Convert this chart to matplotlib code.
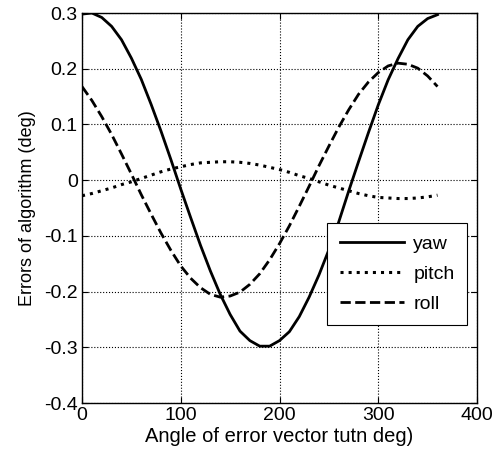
import matplotlib.pyplot as plt

plt.rcParams['font.family'] = ['Liberation Sans', 'DejaVu Sans']

# angle of error vector (deg)
angle = [0, 10, 20, 30, 40, 50, 60, 70, 80, 90, 100, 110, 120, 130, 140, 150, 160, 170, 180,
         190, 200, 210, 220, 230, 240, 250, 260, 270, 280, 290, 300, 310, 320, 330, 340, 350, 360]

yaw = [0.298, 0.300, 0.292, 0.276, 0.252, 0.219, 0.181, 0.136, 0.088, 0.037, -0.016, -0.067,
       -0.117, -0.163, -0.205, -0.241, -0.271, -0.288, -0.298, -0.298, -0.288, -0.272, -0.245,
       -0.210, -0.170, -0.125, -0.075, -0.020, 0.033, 0.085, 0.135, 0.180, 0.218, 0.252, 0.276,
       0.290, 0.297]

pitch = [-0.028, -0.024, -0.019, -0.014, -0.008, -0.003, 0.003, 0.009, 0.015, 0.020, 0.024,
         0.028, 0.031, 0.032, 0.033, 0.033, 0.032, 0.030, 0.027, 0.023, 0.019, 0.014, 0.008,
         0.003, -0.003, -0.009, -0.014, -0.019, -0.024, -0.028, -0.031, -0.032, -0.033, -0.033,
         -0.032, -0.030, -0.027]

roll = [0.168, 0.143, 0.114, 0.082, 0.047, 0.011, -0.026, -0.061, -0.095, -0.126, -0.154,
        -0.176, -0.193, -0.205, -0.210, -0.208, -0.201, -0.187, -0.168, -0.143, -0.114, -0.082,
        -0.047, -0.011, 0.026, 0.061, 0.095, 0.126, 0.154, 0.176, 0.193, 0.205, 0.210, 0.208,
        0.201, 0.187, 0.168]

fig = plt.figure(figsize=(4.97, 4.66), dpi=100)
ax = fig.add_axes([82 / 497, 1 - 403 / 466, 395 / 497, 390 / 466])

ax.plot(angle, yaw, color='black', linestyle='-', linewidth=2.0, label='yaw')
ax.plot(angle, pitch, color='black', linestyle=':', linewidth=2.2, label='pitch')
ax.plot(angle, roll, color='black', linestyle='--', linewidth=2.0, label='roll')

ax.set_xlim(0, 400)
ax.set_ylim(-0.4, 0.3)
ax.set_xticks([0, 100, 200, 300, 400])
ax.set_yticks([-0.4, -0.3, -0.2, -0.1, 0, 0.1, 0.2, 0.3])
ax.set_yticklabels(['-0.4', '-0.3', '-0.2', '-0.1', '0', '0.1', '0.2', '0.3'])
ax.tick_params(direction='in', labelsize=14, length=4, top=True, right=True, pad=3)
ax.grid(True, color='black', linestyle=':', linewidth=0.8)
for s in ax.spines.values():
    s.set_linewidth(1.0)

ax.set_xlabel('Angle of error vector tutn deg)', fontsize=14.5, labelpad=2)
ax.set_ylabel('Errors of algorithm (deg)', fontsize=13, labelpad=6)

leg = ax.legend(loc='upper left', bbox_to_anchor=(0.620, 0.4615), borderaxespad=0,
                fontsize=14, fancybox=False, framealpha=1, edgecolor='black',
                handlelength=3.3, handletextpad=0.5, borderpad=0.65, labelspacing=0.62)
leg.get_frame().set_linewidth(0.8)

fig.savefig('out.png', dpi=100)
